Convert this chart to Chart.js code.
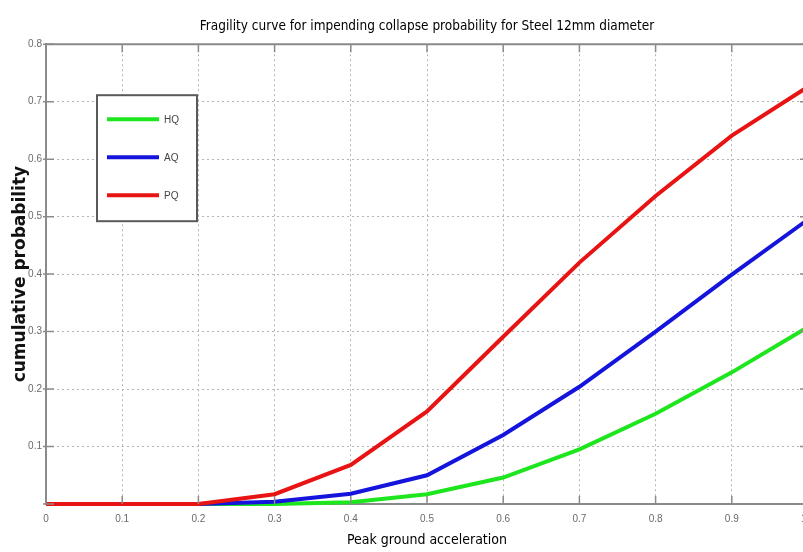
<!DOCTYPE html>
<html>
<head>
<meta charset="utf-8">
<script src="https://cdn.jsdelivr.net/npm/chart.js@4/dist/chart.umd.min.js"></script>
<style>
  html, body { margin: 0; padding: 0; background: #fff; overflow: hidden; }
  #wrap { width: 854px; height: 552px; }
</style>
</head>
<body>
<div id="wrap"><canvas id="fragility" width="854" height="552"></canvas></div>
<script>
// Peak ground acceleration (x)
const pga = [0, 0.1, 0.2, 0.3, 0.4, 0.5, 0.6, 0.7, 0.8, 0.9, 1.0];

// cumulative probability per quality level
const hqValues = [0, 0, 0, 0, 0.003, 0.017, 0.046, 0.095, 0.157, 0.229, 0.308];
const aqValues = [0, 0, 0, 0.004, 0.018, 0.050, 0.120, 0.204, 0.300, 0.399, 0.495];
const pqValues = [0, 0, 0, 0.017, 0.068, 0.161, 0.291, 0.420, 0.536, 0.641, 0.726];

const xTicks = [0, 0.1, 0.2, 0.3, 0.4, 0.5, 0.6, 0.7, 0.8, 0.9, 1.0];
const yTicks = [0, 0.1, 0.2, 0.3, 0.4, 0.5, 0.6, 0.7, 0.8];

const toPoints = vals => pga.map((x, i) => ({ x: x, y: vals[i] }));

const AXIS_COLOR = '#8a8a8a';
const GRID_COLOR = '#b4b4b4';
const TICK_COLOR = '#6a6a6a';
const FONT = '"Liberation Sans Narrow", "Liberation Sans", sans-serif';
const COND = '"DejaVu Sans Condensed", "Liberation Sans", sans-serif';

// Frame + inward tick marks, MATLAB style
const frameTicks = {
  id: 'frameTicks',
  afterDatasetsDraw(chart) {
    const { ctx, chartArea, scales } = chart;
    const { left, right, top, bottom } = chartArea;
    ctx.save();
    ctx.strokeStyle = AXIS_COLOR;
    ctx.lineWidth = 1.5;
    xTicks.forEach(v => {
      const px = scales.x.getPixelForValue(v);
      ctx.beginPath();
      ctx.moveTo(px, bottom); ctx.lineTo(px, bottom - 8);
      ctx.moveTo(px, top); ctx.lineTo(px, top + 8);
      ctx.stroke();
    });
    yTicks.forEach(v => {
      const py = scales.y.getPixelForValue(v);
      ctx.beginPath();
      ctx.moveTo(left - 3, py); ctx.lineTo(left + 8, py);
      ctx.moveTo(right, py); ctx.lineTo(right - 8, py);
      ctx.stroke();
    });
    ctx.lineWidth = 2;
    ctx.beginPath();
    ctx.moveTo(left, top); ctx.lineTo(right, top);
    ctx.stroke();
    ctx.restore();
  }
};

// Boxed legend inside the plot
const boxLegend = {
  id: 'boxLegend',
  afterDraw(chart) {
    const { ctx, chartArea } = chart;
    const bx = chartArea.left + 51;
    const by = chartArea.top + 51;
    const bw = 100, bh = 126;
    ctx.save();
    ctx.fillStyle = '#fff';
    ctx.fillRect(bx, by, bw, bh);
    ctx.strokeStyle = '#5a5a5a';
    ctx.lineWidth = 2;
    ctx.strokeRect(bx, by, bw, bh);
    ctx.font = '10px ' + FONT;
    ctx.textBaseline = 'middle';
    chart.data.datasets.forEach((ds, i) => {
      const ly = by + 24 + i * 38;
      ctx.strokeStyle = ds.borderColor;
      ctx.lineWidth = 4;
      ctx.beginPath();
      ctx.moveTo(bx + 10, ly); ctx.lineTo(bx + 62, ly);
      ctx.stroke();
      ctx.fillStyle = '#444';
      ctx.fillText(ds.label, bx + 67, ly + 1);
    });
    ctx.restore();
  }
};

const lineStyle = {
  borderWidth: 4,
  pointRadius: 0,
  tension: 0,
  fill: false,
  clip: 6
};

new Chart(document.getElementById('fragility'), {
  type: 'line',
  data: {
    datasets: [
      { label: 'HQ', data: toPoints(hqValues), borderColor: '#1ee61e', order: 3, ...lineStyle },
      { label: 'AQ', data: toPoints(aqValues), borderColor: '#1414dc', order: 2, ...lineStyle },
      { label: 'PQ', data: toPoints(pqValues), borderColor: '#e81414', order: 1, ...lineStyle }
    ]
  },
  options: {
    responsive: false,
    animation: false,
    layout: { padding: { left: 0, right: 46, top: 0, bottom: 0 } },
    plugins: {
      legend: { display: false },
      tooltip: { enabled: false },
      title: {
        display: true,
        fullSize: false, // centre over the plot area only
        text: 'Fragility curve for impending collapse probability for Steel 12mm diameter',
        color: '#000',
        font: { family: COND, size: 13.5, weight: 'normal' },
        padding: { top: 18, bottom: 10 }
      }
    },
    scales: {
      x: {
        type: 'linear',
        min: 0,
        max: 1,
        afterFit: s => { s.height = 48; },
        afterBuildTicks: s => { s.ticks = xTicks.map(v => ({ value: v })); },
        grid: { color: GRID_COLOR, lineWidth: 1, drawTicks: false },
        border: { color: AXIS_COLOR, width: 2, dash: [2, 3] },
        ticks: {
          color: TICK_COLOR,
          padding: 9,
          maxRotation: 0,
          font: { family: FONT, size: 10 },
          callback: v => (v === 0 ? '0' : v.toFixed(1))
        },
        title: {
          display: true,
          text: 'Peak ground acceleration',
          color: '#000',
          font: { family: COND, size: 14 },
          padding: { top: 0, bottom: 3 }
        }
      },
      y: {
        min: 0,
        max: 0.8,
        afterFit: s => { s.width = 46; },
        afterBuildTicks: s => { s.ticks = yTicks.map(v => ({ value: v })); },
        grid: { color: GRID_COLOR, lineWidth: 1, drawTicks: false },
        border: { color: AXIS_COLOR, width: 2, dash: [2, 3] },
        ticks: {
          color: TICK_COLOR,
          padding: 4,
          font: { family: FONT, size: 10 },
          callback: v => (v === 0 ? '' : v.toFixed(1))
        },
        title: {
          display: true,
          text: 'cumulative probability',
          color: '#111',
          font: { family: '"DejaVu Sans", sans-serif', size: 17, weight: 'bold' },
          padding: { top: 10, bottom: 0 }
        }
      }
    }
  },
  plugins: [frameTicks, boxLegend]
});
</script>
</body>
</html>
